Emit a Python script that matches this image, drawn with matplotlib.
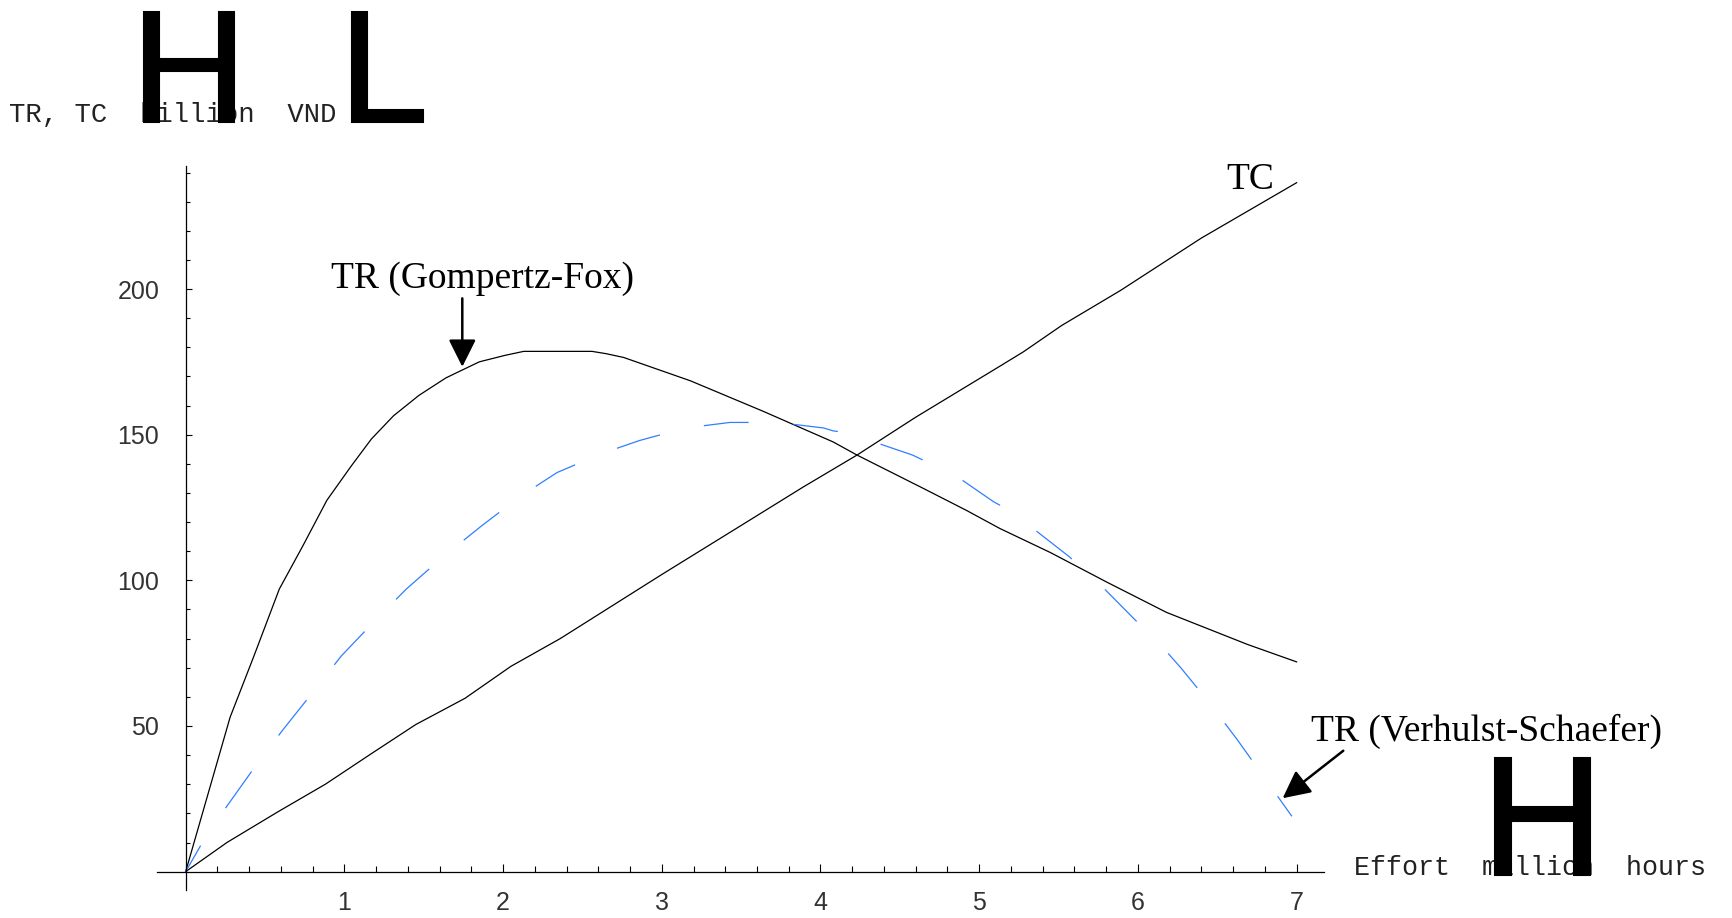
import matplotlib
matplotlib.use('Agg')
import matplotlib.pyplot as plt
import matplotlib.patheffects as pe
from matplotlib.ticker import MultipleLocator, FixedLocator

# effort (million hours) vs revenue / cost (billion VND)
gf_effort = [0, 0.28, 0.43, 0.59, 0.74, 0.89, 1.04, 1.17, 1.31, 1.47, 1.64, 1.85, 2.01, 2.13,
             2.56, 2.65, 2.76, 3.18, 3.64, 4.08, 4.23, 4.65, 4.92, 5.13, 5.45, 5.80, 6.18, 6.69, 7.0]
gf_tr = [0, 53, 74, 97, 112, 127.5, 139, 148.5, 156.5, 163.5, 169.5, 175, 177.2, 178.6,
         178.6, 177.8, 176.5, 168.5, 158, 147.5, 143, 131.5, 124, 117.8, 109.5, 99.5, 89, 78, 72]

tc_effort = [0, 0.26, 0.58, 0.88, 1.17, 1.45, 1.76, 2.05, 2.36, 3.0, 3.49, 3.89, 4.23, 4.6,
             5.13, 5.28, 5.52, 5.89, 6.4, 7.0]
tc = [0, 10, 20.5, 30, 40.5, 50.5, 59.5, 70.5, 80, 102, 118.5, 132, 143, 156,
      173.5, 178.5, 187.5, 199.5, 217.5, 236.5]

vs_effort = [0, 0.10, 0.26, 0.43, 0.61, 0.80, 0.98, 1.19, 1.39, 1.62, 1.86, 2.10, 2.34, 2.62,
             2.86, 3.15, 3.43, 3.73, 4.02, 4.08, 4.23, 4.30, 4.58, 4.85, 5.09, 5.25, 5.33,
             5.57, 5.79, 5.99, 6.14, 6.27, 6.45, 6.63, 6.80, 6.97]
vs_tr = [0, 9.5, 22.5, 35.5, 48.5, 61.5, 74, 86, 97, 108, 118.5, 128.5, 137, 143.5,
         148, 152.3, 154.2, 154.2, 152.3, 151.3, 150.2, 148.2, 143, 136, 127, 122.2, 118.2,
         108, 97, 86, 78, 70, 58, 45, 32, 19]

x_ticks = [1, 2, 3, 4, 5, 6, 7]
y_ticks = [50, 100, 150, 200]

W, H = 1733, 918
plt.rcParams['lines.scale_dashes'] = False
fig = plt.figure(figsize=(W / 100, H / 100), dpi=100)
ax = fig.add_axes([157.1 / W, 1 - 889.7 / H, 1166.5 / W, 723.9 / H])
ax.set_xlim(-0.18, 7.17)
ax.set_ylim(-6.2, 242.3)

ax.plot(gf_effort, gf_tr, color='black', lw=0.9)
ax.plot(tc_effort, tc, color='black', lw=0.9)
ax.plot(vs_effort, vs_tr, color='#2f7fff', lw=0.9, linestyle=(10.8, (32.4, 32.4)))

# mathematica style axes through the origin
for s in ['top', 'right']:
    ax.spines[s].set_visible(False)
ax.spines['left'].set_position('zero')
ax.spines['bottom'].set_position('zero')
ax.spines['left'].set_linewidth(0.9)
ax.spines['bottom'].set_linewidth(0.9)

ax.xaxis.set_major_locator(FixedLocator(x_ticks))
ax.xaxis.set_minor_locator(MultipleLocator(0.2))
ax.yaxis.set_major_locator(FixedLocator(y_ticks))
ax.yaxis.set_minor_locator(FixedLocator([v for v in range(10, 250, 10) if v % 50]))
ax.tick_params(axis='x', which='major', direction='in', length=6, width=0.8, pad=14,
               labelsize=18, labelcolor='#333333')
ax.tick_params(axis='x', which='minor', direction='in', length=4.3, width=0.8)
ax.tick_params(axis='y', which='major', direction='in', length=4.3, width=0.8, pad=19,
               labelsize=18, labelcolor='#333333')
ax.tick_params(axis='y', which='minor', direction='in', length=3, width=0.8)
for lab in ax.get_xticklabels() + ax.get_yticklabels():
    lab.set_fontfamily('Liberation Sans')

def ftxt(x, y, s, **kw):
    fig.text(x / W, 1 - y / H, s, va='baseline', **kw)

# axis labels (the parentheses came out as big H / L glyphs in the original)
ftxt(9, 122, 'TR, TC  billion  VND', family='Liberation Mono', fontsize=19.6, color='#222222')
ftxt(1354, 875, 'Effort  million  hours', family='Liberation Mono', fontsize=19.2, color='#222222')
thick = [pe.withStroke(linewidth=1.5, foreground='black', joinstyle='miter')]
ftxt(189, 122, 'H', ha='center', family='Liberation Sans', fontsize=115, color='black',
     path_effects=thick)
ftxt(339, 122, 'L', ha='left', family='Liberation Sans', fontsize=115, color='black',
     path_effects=thick)
ftxt(1542.5, 875, 'H', ha='center', family='Liberation Sans', fontsize=122.5, color='black',
     path_effects=thick)

# curve labels
serif = dict(family='Liberation Serif', fontsize=27, color='black')
ftxt(331, 288, 'TR (Gompertz-Fox)', **serif)
ftxt(1226, 189, 'TC', **serif)
ftxt(1311, 741, 'TR (Verhulst-Schaefer)', **serif)

arrow = dict(arrowstyle='-|>,head_length=0.4,head_width=0.2', mutation_scale=42,
             lw=1.8, color='black', shrinkA=0, shrinkB=0)
ax.annotate('', xy=(1.743, 173.3), xytext=(1.743, 196.8), arrowprops=arrow, annotation_clip=False)
ax.annotate('', xy=(6.912, 25.2), xytext=(7.294, 41.5), arrowprops=arrow, annotation_clip=False)

fig.savefig('out.png', dpi=100, facecolor='white')
